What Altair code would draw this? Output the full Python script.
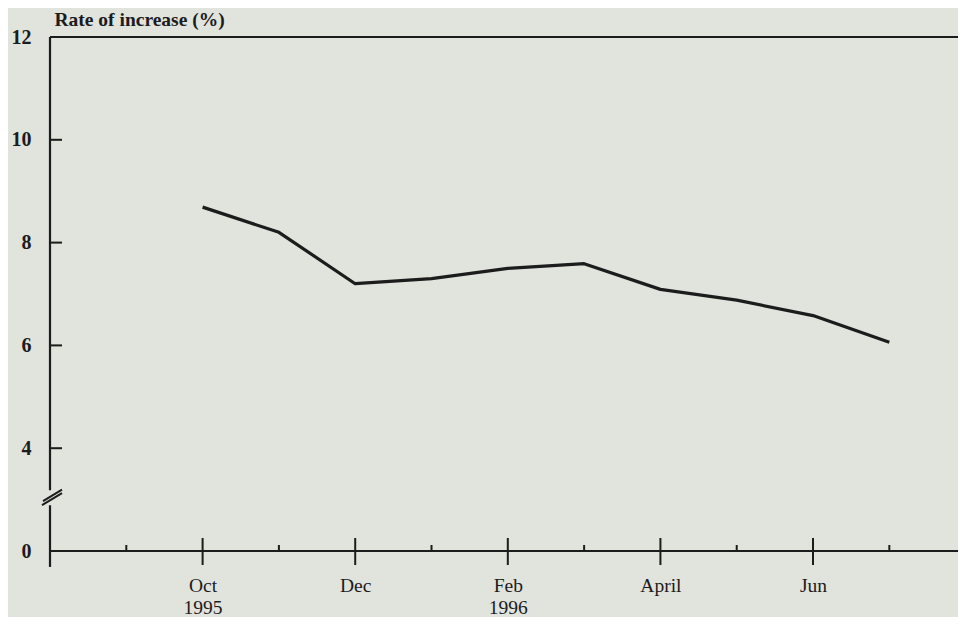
import altair as alt
import pandas as pd

# ---------------- data ----------------
timeline = ["Aug 1995", "Sep 1995", "Oct 1995", "Nov 1995", "Dec 1995",
            "Jan 1996", "Feb 1996", "Mar 1996", "Apr 1996", "May 1996",
            "Jun 1996", "Jul 1996", "Aug 1996"]

series_months = ["Oct 1995", "Nov 1995", "Dec 1995", "Jan 1996", "Feb 1996",
                 "Mar 1996", "Apr 1996", "May 1996", "Jun 1996", "Jul 1996"]
rates = [8.69, 8.20, 7.20, 7.30, 7.50, 7.59, 7.09, 6.88, 6.58, 6.06]

major_months = ["Oct 1995", "Dec 1995", "Feb 1996", "Apr 1996", "Jun 1996"]
major_labels = [["Oct", "1995"], ["Dec"], ["Feb", "1996"], ["April"], ["Jun"]]
minor_months = ["Sep 1995", "Nov 1995", "Jan 1996", "Mar 1996", "May 1996", "Jul 1996"]

y_tick_labels = [0, 4, 6, 8, 10, 12]
y_break_base = 2          # the "0" label is drawn where 2 would be (broken axis)
y_top = 12
y_inner_ticks = [4, 6, 8, 10]
break_at = 3.05           # y position of the axis-break marker
break_gap = (2.89, 3.18)  # gap in the vertical axis line
axis_below = 1.69         # vertical axis extends slightly below the x axis
x_visible_max = 11.9      # the figure is cropped just before Aug 1996

# ---------------- styling ----------------
INK = "#1c1c1c"
BG = "#e1e3dd"
FONT = "Liberation Serif"

idx = {m: i for i, m in enumerate(timeline)}

line_df = pd.DataFrame({"x": [idx[m] for m in series_months], "y": rates})

frame_df = pd.DataFrame([
    {"x": 0, "x2": x_visible_max, "y": y_top, "y2": y_top},
    {"x": 0, "x2": x_visible_max, "y": y_break_base, "y2": y_break_base},
    {"x": 0, "x2": 0, "y": y_top, "y2": break_gap[1]},
    {"x": 0, "x2": 0, "y": break_gap[0], "y2": axis_below},
])
ytick_df = pd.DataFrame({"x": [0] * len(y_inner_ticks), "y": y_inner_ticks})
major_df = pd.DataFrame({"x": [idx[m] for m in major_months], "y": [y_break_base] * len(major_months)})
minor_df = pd.DataFrame({"x": [idx[m] for m in minor_months], "y": [y_break_base] * len(minor_months)})
break_df = pd.DataFrame({"x": [0], "y": [break_at]})

# label expressions built from the lists
def js(v):
    if isinstance(v, list):
        return "[" + ",".join("'" + s + "'" for s in v) + "]"
    return "'" + str(v) + "'"

x_expr = "''"
for m, lab in zip(reversed(major_months), reversed(major_labels)):
    x_expr = f"datum.value == {idx[m]} ? {js(lab)} : ({x_expr})"

y_positions = [y_break_base if v == 0 else v for v in y_tick_labels]
y_expr = "''"
for p, lab in zip(reversed(y_positions), reversed(y_tick_labels)):
    y_expr = f"datum.value == {p} ? {js(lab)} : ({y_expr})"

x_scale = alt.Scale(domain=[0, x_visible_max], nice=False, zero=False)
y_scale = alt.Scale(domain=[y_break_base, y_top], nice=False, zero=False)

x_axis = alt.Axis(values=[idx[m] for m in major_months], labelExpr=x_expr,
                  ticks=False, domain=False, grid=False, title=None,
                  labelPadding=25, labelLineHeight=22, labelFont=FONT,
                  labelFontSize=19.5, labelColor=INK, labelOverlap=False,
                  labelFlush=False)
y_axis = alt.Axis(values=y_positions, labelExpr=y_expr, ticks=False,
                  domain=False, grid=False, labelPadding=19, labelFont=FONT,
                  labelFontSize=20, labelFontWeight="bold", labelColor=INK,
                  labelOverlap=False,
                  title="Rate of increase (%)", titleAngle=0, titleX=4,
                  titleY=-12, titleAlign="left", titleBaseline="alphabetic",
                  titleFont=FONT, titleFontSize=19.5, titleFontWeight="bold",
                  titleColor=INK)

X = alt.X("x:Q", scale=x_scale, axis=x_axis)
Y = alt.Y("y:Q", scale=y_scale, axis=y_axis)

frame = alt.Chart(frame_df).mark_rule(color=INK, strokeWidth=2.2).encode(
    x=X, x2="x2:Q", y=Y, y2="y2:Q")
yticks = alt.Chart(ytick_df).mark_tick(orient="horizontal", size=12, thickness=2,
                                       xOffset=6, color=INK, opacity=1).encode(x=X, y=Y)
major = alt.Chart(major_df).mark_tick(orient="vertical", size=27, thickness=2,
                                      yOffset=0.5, color=INK, opacity=1).encode(x=X, y=Y)
minor = alt.Chart(minor_df).mark_tick(orient="vertical", size=6, thickness=2,
                                      yOffset=-3, color=INK, opacity=1).encode(x=X, y=Y)
brk = alt.Chart(break_df).mark_point(
    shape="M -1 0.8 L 1 -0.4 M -0.9 0.4 L 1 -0.75", size=400, filled=False,
    strokeWidth=2, color=INK, opacity=1, xOffset=2).encode(x=X, y=Y)
line = alt.Chart(line_df).mark_line(color=INK, strokeWidth=3.2, strokeJoin="round").encode(x=X, y=Y)

chart = alt.layer(frame, yticks, major, minor, brk, line).properties(
    width=908, height=514,
    autosize=alt.AutoSizeParams(type="none"),
    padding={"left": 42, "top": 29, "right": 0, "bottom": 66},
    background=BG,
).configure_view(stroke=None)

chart.save("out.html", embed_options={"renderer": "svg", "actions": False})
